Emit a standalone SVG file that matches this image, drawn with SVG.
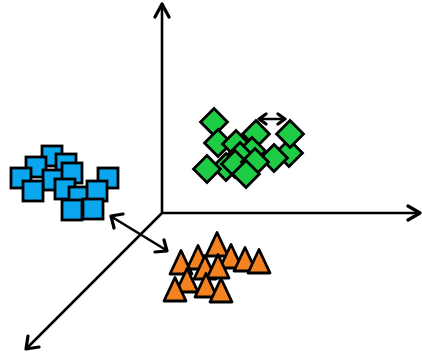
<svg xmlns="http://www.w3.org/2000/svg" width="422" height="363" viewBox="0 0 422 363">
<defs>
<style>
.ax{stroke:#000;stroke-width:2.6;fill:none;stroke-linecap:round;stroke-linejoin:round}
.hd{stroke:#000;stroke-width:3.2;fill:none;stroke-linecap:round;stroke-linejoin:round}
.sq{fill:#0AA6EE;stroke:#000;stroke-width:2.8}
.dm{fill:#1ECC45;stroke:#000;stroke-width:2.8}
.tr{fill:#F58220;stroke:#000;stroke-width:2.8;stroke-linejoin:round}
</style>
<rect id="s" x="-10" y="-10" width="20" height="20" class="sq"/>
<rect id="d" x="-9.5" y="-9.5" width="19" height="19" class="dm" transform="rotate(45)"/>
<polygon id="t" points="0,-12.5 11,11 -11,11" class="tr"/>
</defs>
<g id="connectors">
<path class="ax" d="M162,213 V5 M162,213 H418 M162,213 L27,348 M112,217 L166,250 M260,119 H284"/>
<path class="hd" d="M155,17 L162,4 L169,17 M408,206 L420,213 L408,220 M28,336 L26,349 L39,347 M114,228 L111,216 L123,214 M155,252 L167,251 L164,240 M266,114 L259,119 L266,124 M278,114 L285,119 L278,124"/>
</g>
<g id="squares">
<use href="#s" x="52" y="156"/>
<use href="#s" x="36" y="167"/>
<use href="#s" x="66" y="164"/>
<use href="#s" x="21" y="178"/>
<use href="#s" x="53" y="180"/>
<use href="#s" x="72" y="173"/>
<use href="#s" x="33" y="191"/>
<use href="#s" x="65" y="189"/>
<use href="#s" x="79" y="197"/>
<use href="#s" x="108" y="178"/>
<use href="#s" x="97" y="191"/>
<use href="#s" x="72" y="210"/>
<use href="#s" x="93" y="209"/>
</g>
<g id="diamonds">
<use href="#d" x="214" y="122"/>
<use href="#d" x="256" y="134"/>
<use href="#d" x="218" y="143"/>
<use href="#d" x="236" y="144"/>
<use href="#d" x="252" y="151"/>
<use href="#d" x="240" y="156"/>
<use href="#d" x="289" y="153"/>
<use href="#d" x="290" y="134"/>
<use href="#d" x="274" y="158"/>
<use href="#d" x="226" y="167"/>
<use href="#d" x="207" y="169"/>
<use href="#d" x="235" y="164"/>
<use href="#d" x="255" y="162"/>
<use href="#d" x="246" y="174"/>
</g>
<g id="triangles">
<use href="#t" x="217" y="245"/>
<use href="#t" x="198" y="258"/>
<use href="#t" x="231" y="257"/>
<use href="#t" x="245" y="260"/>
<use href="#t" x="259" y="262"/>
<use href="#t" x="181" y="263"/>
<use href="#t" x="205" y="268"/>
<use href="#t" x="218" y="267"/>
<use href="#t" x="187" y="281"/>
<use href="#t" x="175" y="290"/>
<use href="#t" x="206" y="286"/>
<use href="#t" x="221" y="291"/>
</g>
</svg>
